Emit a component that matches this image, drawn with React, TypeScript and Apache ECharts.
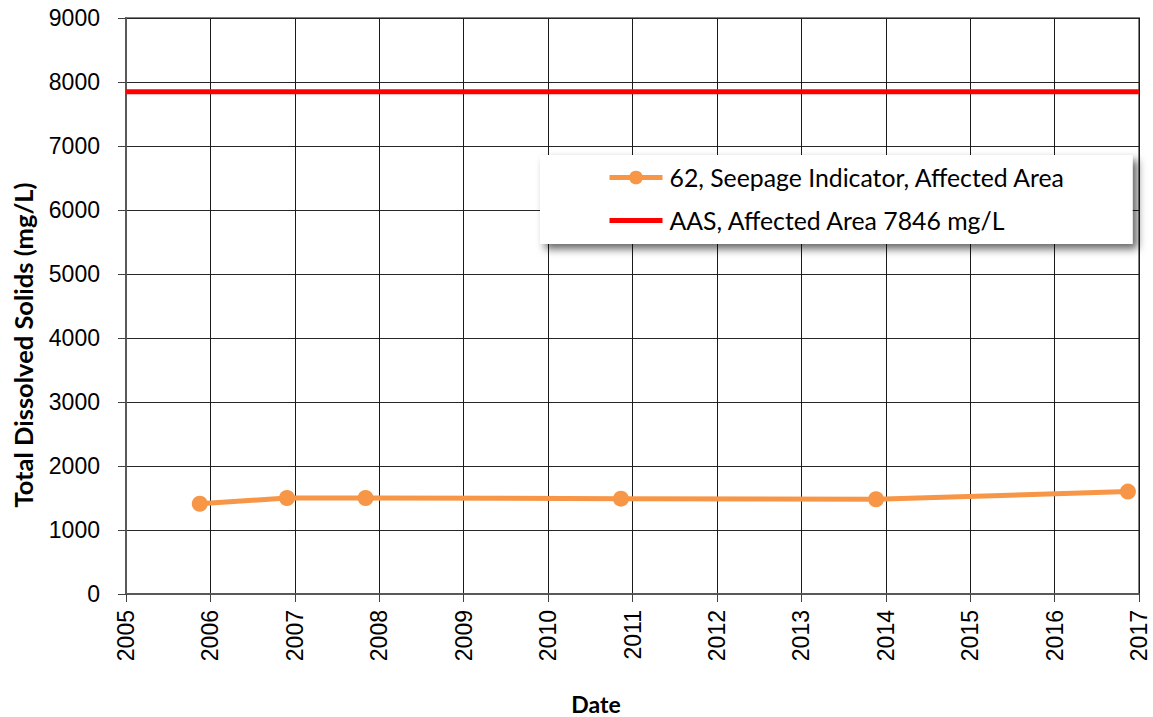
import React, { useEffect, useRef } from "react";
import * as echarts from "echarts";

// Sampling dates and total dissolved solids (mg/L) at station 62
const sampleDates = ["2005-11-16", "2006-11-28", "2007-11-03", "2010-11-12", "2013-11-20", "2016-11-14"];
const tdsValues = [1410, 1500, 1500, 1490, 1480, 1600];

// Affected Area standard
const aasLevel = 7846;

const seriesNames = ["62, Seepage Indicator, Affected Area", "AAS, Affected Area 7846 mg/L"];
const yearRange = [2005, 2017];

function toDecimalYear(d: string): number {
  const dt = new Date(d + "T00:00:00Z");
  const y = dt.getUTCFullYear();
  const start = Date.UTC(y, 0, 1);
  const end = Date.UTC(y + 1, 0, 1);
  return y + (dt.getTime() - start) / (end - start);
}

export default function App() {
  const ref = useRef<HTMLDivElement>(null);

  useEffect(() => {
    if (!ref.current) return;
    const chart = echarts.init(ref.current, null, { renderer: "svg" });
    const pts = sampleDates.map((d, i) => [toDecimalYear(d), tdsValues[i]]);

    chart.setOption({
      animation: false,
      backgroundColor: "#ffffff",
      grid: {
        left: 126,
        right: 14,
        top: 18,
        bottom: 123,
        show: true,
        borderColor: "#808080",
        borderWidth: 2,
        backgroundColor: "transparent",
      },
      xAxis: {
        type: "value",
        min: yearRange[0],
        max: yearRange[1],
        interval: 1,
        axisLine: { show: true, onZero: false, lineStyle: { color: "#595959", width: 2 } },
        axisTick: { show: true, length: 8, lineStyle: { color: "#404040" } },
        splitLine: { show: true, lineStyle: { color: "#1a1a1a", width: 1 } },
        axisLabel: {
          rotate: 90,
          margin: 16,
          fontFamily: "Liberation Sans",
          fontSize: 23,
          color: "#000",
          formatter: (v: number) => String(Math.round(v)),
        },
      },
      yAxis: {
        type: "value",
        min: 0,
        max: 9000,
        interval: 1000,
        axisLine: { show: true, lineStyle: { color: "#595959", width: 2 } },
        axisTick: { show: true, length: 8, lineStyle: { color: "#404040" } },
        splitLine: { show: true, lineStyle: { color: "#262626", width: 1 } },
        axisLabel: {
          margin: 26,
          fontFamily: "Liberation Sans",
          fontSize: 23,
          color: "#000",
          formatter: (v: number) => String(v),
        },
      },
      legend: {
        left: 540,
        top: 155,
        orient: "vertical",
        padding: [10, 67, 11, 67],
        itemGap: 18,
        itemWidth: 53,
        itemHeight: 17,
        backgroundColor: "#ffffff",
        shadowColor: "rgba(0,0,0,0.6)",
        shadowBlur: 9,
        shadowOffsetX: 5,
        shadowOffsetY: 5,
        lineStyle: { width: 5 },
        textStyle: { fontFamily: "Lato", fontSize: 24.8, color: "#000", padding: [0, 0, 0, 2] },
        data: [
          { name: seriesNames[0] },
          { name: seriesNames[1], itemStyle: { opacity: 0 } },
        ],
      },
      graphic: [
        {
          type: "text",
          x: 23,
          y: 345,
          rotation: Math.PI / 2,
          style: {
            text: "Total Dissolved Solids (mg/L)",
            fontFamily: "Lato",
            fontWeight: "bold",
            fontSize: 25.5,
            fill: "#000",
            align: "center",
            verticalAlign: "middle",
          },
        },
        {
          type: "text",
          x: 596,
          y: 704,
          style: {
            text: "Date",
            fontFamily: "Lato",
            fontWeight: "bold",
            fontSize: 23,
            fill: "#000",
            align: "center",
            verticalAlign: "middle",
          },
        },
      ],
      series: [
        {
          name: seriesNames[0],
          type: "line",
          data: pts,
          symbol: "circle",
          symbolSize: 16,
          lineStyle: { color: "#F79646", width: 5 },
          itemStyle: { color: "#F79646" },
          z: 3,
        },
        {
          name: seriesNames[1],
          type: "line",
          data: [
            [yearRange[0], aasLevel],
            [yearRange[1], aasLevel],
          ],
          symbol: "none",
          lineStyle: { color: "#FF0000", width: 5 },
          itemStyle: { color: "#FF0000" },
          z: 2,
        },
      ],
    });

    return () => chart.dispose();
  }, []);

  return <div ref={ref} style={{ width: 1153, height: 717, position: "absolute", left: 0, top: 0 }} />;
}
